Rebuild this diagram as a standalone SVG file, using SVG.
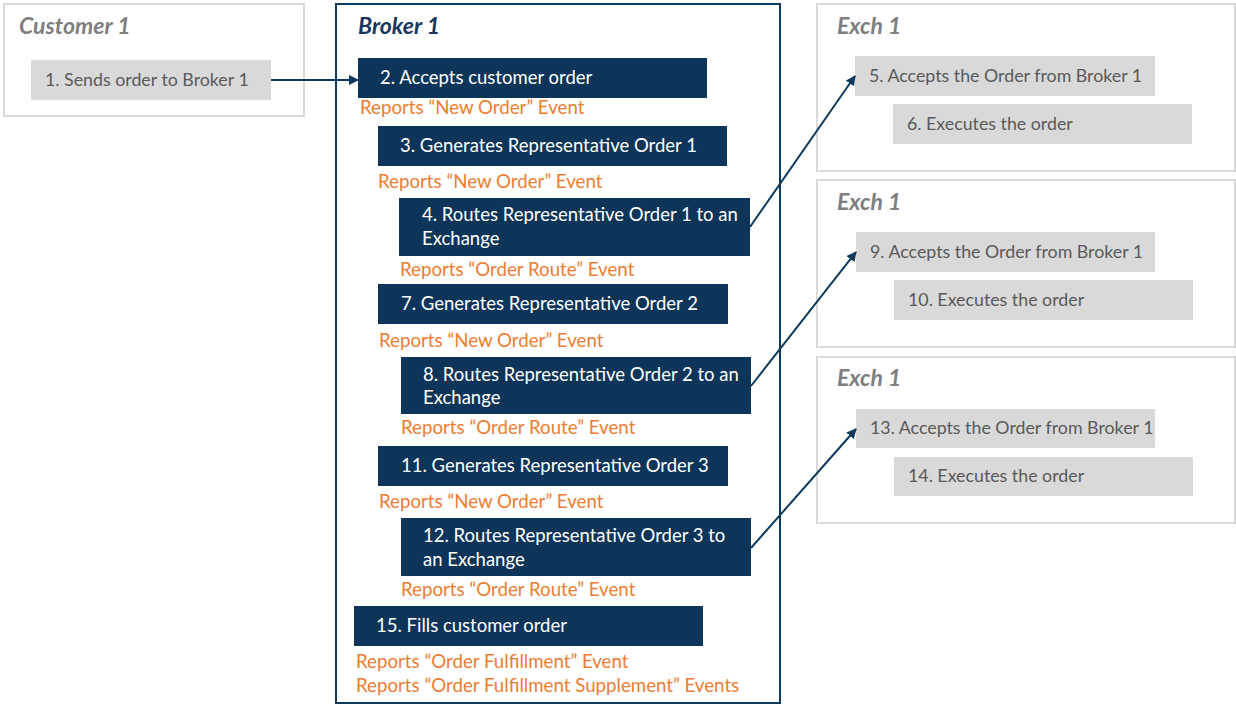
<svg xmlns="http://www.w3.org/2000/svg" width="1236" height="705" viewBox="0 0 1236 705">
<defs>
<marker id="ah" viewBox="0 0 10 10" refX="9" refY="5" markerWidth="5" markerHeight="5" orient="auto" markerUnits="strokeWidth">
<path d="M0,0 L10,5 L0,10 z" fill="#0d3a5c"/>
</marker>
</defs>
<style>
text{font-family:Lato,"Open Sans",sans-serif;}
.frame{fill:#fff;stroke:#d9d9d9;stroke-width:2}
.bframe{fill:#fff;stroke:#0d3a5c;stroke-width:2}
.title{font-size:23px;font-weight:bold;font-style:italic;fill:#7f7f7f}
.btitle{font-size:23px;font-weight:bold;font-style:italic;fill:#17375e}
.gbox{fill:#d9d9d9}
.gtxt{font-size:17.8px;fill:#595959}
.dbox{fill:#0c3559}
.dtxt{font-size:18.5px;fill:#fff}
.otxt{font-size:18.7px;fill:#ed7d31}
.conn{stroke:#0d3a5c;stroke-width:2;fill:none;marker-end:url(#ah)}
</style>
<rect width="1236" height="705" fill="#fff"/>
<g id="customer1">
<rect class="frame" x="4" y="4" width="300" height="112"/>
<text class="title" x="19" y="34">Customer 1</text>
<rect class="gbox" x="31" y="60" width="240" height="40"/>
<text class="gtxt" x="45" y="86">1. Sends order to Broker 1</text>
</g>
<g id="broker1">
<rect class="bframe" x="336" y="4" width="444" height="699"/>
<text class="btitle" x="358" y="34">Broker 1</text>
</g>
<g id="step2">
<rect class="dbox" x="358" y="58" width="349" height="40"/>
<text class="dtxt" x="380" y="84">2. Accepts customer order</text>
<text class="otxt" x="360" y="114">Reports “New Order” Event</text>
</g>
<g id="step3">
<rect class="dbox" x="378" y="126" width="349" height="40"/>
<text class="dtxt" x="400" y="152">3. Generates Representative Order 1</text>
<text class="otxt" x="378" y="188">Reports “New Order” Event</text>
</g>
<g id="step4">
<rect class="dbox" x="399" y="198" width="351" height="58"/>
<text class="dtxt" x="422" y="221">4. Routes Representative Order 1 to an</text>
<text class="dtxt" x="422" y="245">Exchange</text>
<text class="otxt" x="400" y="276">Reports “Order Route” Event</text>
</g>
<g id="step7">
<rect class="dbox" x="378" y="284" width="350" height="40"/>
<text class="dtxt" x="401" y="310">7. Generates Representative Order 2</text>
<text class="otxt" x="379" y="347">Reports “New Order” Event</text>
</g>
<g id="step8">
<rect class="dbox" x="401" y="357" width="350" height="57"/>
<text class="dtxt" x="423" y="381">8. Routes Representative Order 2 to an</text>
<text class="dtxt" x="423" y="404">Exchange</text>
<text class="otxt" x="401" y="434">Reports “Order Route” Event</text>
</g>
<g id="step11">
<rect class="dbox" x="378" y="446" width="350" height="40"/>
<text class="dtxt" x="401" y="472">11. Generates Representative Order 3</text>
<text class="otxt" x="379" y="508">Reports “New Order” Event</text>
</g>
<g id="step12">
<rect class="dbox" x="401" y="518" width="350" height="58"/>
<text class="dtxt" x="423" y="542">12. Routes Representative Order 3 to</text>
<text class="dtxt" x="423" y="566">an Exchange</text>
<text class="otxt" x="401" y="596">Reports “Order Route” Event</text>
</g>
<g id="step15">
<rect class="dbox" x="354" y="606" width="349" height="40"/>
<text class="dtxt" x="376" y="632">15. Fills customer order</text>
<text class="otxt" x="356" y="668">Reports “Order Fulfillment” Event</text>
<text class="otxt" x="356" y="692">Reports “Order Fulfillment Supplement” Events</text>
</g>
<g id="exch1a">
<rect class="frame" x="817" y="4" width="418" height="167"/>
<text class="title" x="837" y="34">Exch 1</text>
<rect class="gbox" x="855" y="56" width="300" height="40"/>
<text class="gtxt" x="869" y="82">5. Accepts the Order from Broker 1</text>
<rect class="gbox" x="893" y="104" width="299" height="40"/>
<text class="gtxt" x="907" y="130">6. Executes the order</text>
</g>
<g id="exch1b">
<rect class="frame" x="817" y="180" width="418" height="167"/>
<text class="title" x="837" y="210">Exch 1</text>
<rect class="gbox" x="856" y="232" width="299" height="40"/>
<text class="gtxt" x="870" y="258">9. Accepts the Order from Broker 1</text>
<rect class="gbox" x="894" y="280" width="299" height="40"/>
<text class="gtxt" x="908" y="306">10. Executes the order</text>
</g>
<g id="exch1c">
<rect class="frame" x="817" y="357" width="418" height="166"/>
<text class="title" x="837" y="386">Exch 1</text>
<rect class="gbox" x="856" y="409" width="299" height="39"/>
<text class="gtxt" x="870" y="434">13. Accepts the Order from Broker 1</text>
<rect class="gbox" x="894" y="457" width="299" height="39"/>
<text class="gtxt" x="908" y="482">14. Executes the order</text>
</g>
<g id="connectors">
<line class="conn" x1="271" y1="80" x2="358" y2="80"/>
<line class="conn" x1="750" y1="227" x2="855" y2="76"/>
<line class="conn" x1="751" y1="386" x2="856" y2="252"/>
<line class="conn" x1="751" y1="548" x2="856" y2="429"/>
</g>
</svg>
